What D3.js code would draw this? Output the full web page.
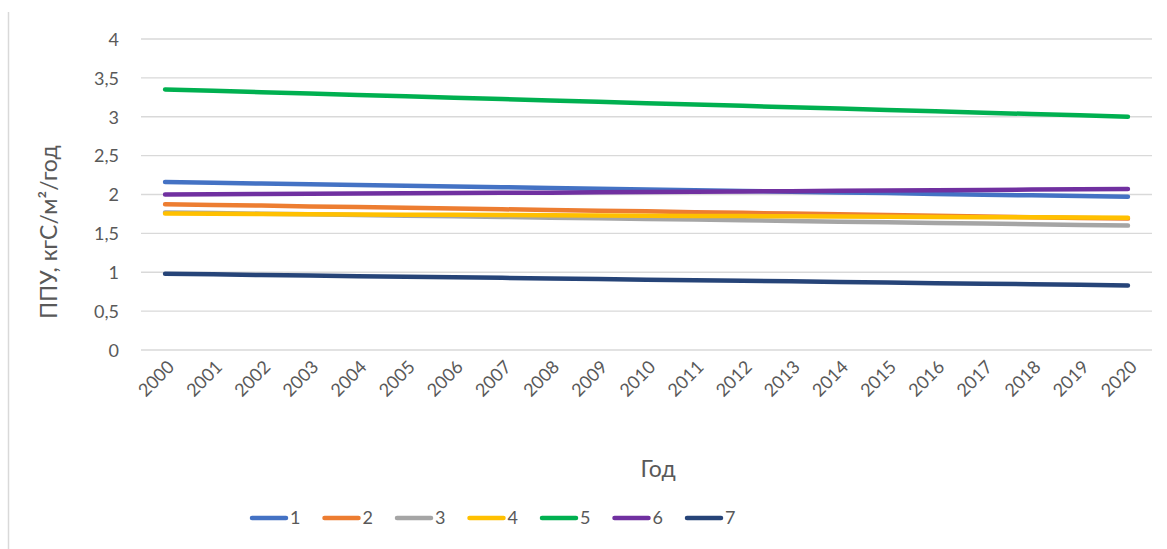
<!DOCTYPE html>
<html><head><meta charset="utf-8">
<script src="https://cdn.jsdelivr.net/npm/d3@7"></script>
<style>
html,body{margin:0;padding:0;background:#fff;}
text{font-family:Lato,"Noto Sans",sans-serif;fill:#595959;}
</style></head>
<body><svg id="c" width="1167" height="549"></svg>
<script>
const years = ["2000","2001","2002","2003","2004","2005","2006","2007","2008","2009","2010","2011","2012","2013","2014","2015","2016","2017","2018","2019","2020"];
const seriesNames = ["1","2","3","4","5","6","7"];
const colors = ["#4472C4","#ED7D31","#A5A5A5","#FFC000","#00B050","#7030A0","#264478"];
const s1 = [2.160,2.150,2.141,2.132,2.122,2.112,2.103,2.094,2.084,2.074,2.065,2.056,2.046,2.036,2.027,2.018,2.008,1.998,1.989,1.980,1.970];
const s2 = [1.875,1.866,1.857,1.847,1.838,1.829,1.820,1.810,1.801,1.792,1.783,1.773,1.764,1.755,1.745,1.736,1.727,1.718,1.708,1.699,1.690];
const s3 = [1.770,1.762,1.753,1.745,1.736,1.728,1.719,1.711,1.702,1.694,1.685,1.677,1.668,1.660,1.651,1.643,1.634,1.626,1.617,1.609,1.600];
const s4 = [1.755,1.752,1.750,1.747,1.744,1.741,1.739,1.736,1.733,1.730,1.728,1.725,1.722,1.719,1.717,1.714,1.711,1.708,1.706,1.703,1.700];
const s5 = [3.350,3.333,3.315,3.298,3.280,3.263,3.245,3.228,3.210,3.193,3.175,3.158,3.140,3.123,3.105,3.088,3.070,3.053,3.035,3.018,3.000];
const s6 = [2.000,2.003,2.006,2.009,2.012,2.015,2.018,2.021,2.024,2.028,2.031,2.035,2.039,2.043,2.047,2.051,2.055,2.059,2.063,2.067,2.071];
const s7 = [0.980,0.973,0.965,0.958,0.950,0.943,0.935,0.928,0.920,0.913,0.905,0.898,0.890,0.883,0.875,0.868,0.860,0.853,0.845,0.838,0.830];
const yTicks = [0,0.5,1,1.5,2,2.5,3,3.5,4];
const yTitle = "ППУ, кгС/м²/год";
const xTitle = "Год";

const allSeries = [s1,s2,s3,s4,s5,s6,s7];
const svg = d3.select("#c");
const FF = "Lato,'Noto Sans',sans-serif";

// chart border (left edge visible)
svg.append("line").attr("x1",8.5).attr("x2",8.5).attr("y1",12).attr("y2",549)
  .attr("stroke","#d9d9d9").attr("stroke-width",1.5);

const L = 141, R = 1152, T = 39, B = 350;
const x = d3.scaleBand().domain(years).range([L,R]);
const y = d3.scaleLinear().domain([0,4]).range([B,T]);

// gridlines
svg.append("g").selectAll("line").data(yTicks).join("line")
  .attr("x1",L).attr("x2",R).attr("y1",d=>y(d)).attr("y2",d=>y(d))
  .attr("stroke","#d9d9d9").attr("stroke-width",1.3);

// y axis labels
const yAxis = d3.axisLeft(y).tickValues(yTicks).tickSize(0).tickPadding(0)
  .tickFormat(d=>String(d).replace(".",","));
const gy = svg.append("g").attr("transform",`translate(${L-22},0)`).call(yAxis);
gy.select(".domain").remove();
gy.selectAll("text").attr("font-size",18).style("font-family",FF).attr("fill","#595959").attr("dy","0.35em");

// x axis labels
const xAxis = d3.axisBottom(x).tickSize(0).tickPadding(0);
const gx = svg.append("g").attr("transform",`translate(0,${B})`).call(xAxis);
gx.select(".domain").remove();
gx.selectAll("text").attr("font-size",18).style("font-family",FF).attr("fill","#595959")
  .attr("text-anchor","end").attr("dy",null).attr("y",0)
  .attr("transform","translate(7,15) rotate(-45)").attr("dominant-baseline","middle");

// lines
const line = d3.line().x((d,i)=>x(years[i])+x.bandwidth()/2).y(d=>y(d));
allSeries.forEach((s,i)=>{
  svg.append("path").datum(s).attr("d",line).attr("fill","none")
    .attr("stroke",colors[i]).attr("stroke-width",4.5)
    .attr("stroke-linecap","round").attr("stroke-linejoin","round");
});

// axis titles
svg.append("text").attr("transform","translate(57,232) rotate(-90)")
  .attr("text-anchor","middle").attr("font-size",23).text(yTitle);
svg.append("text").attr("x",658).attr("y",477).attr("text-anchor","middle")
  .attr("font-size",23).text(xTitle);

// legend
const lg = svg.append("g");
seriesNames.forEach((n,i)=>{
  const lx = 250 + i*72.5, ly = 518;
  lg.append("line").attr("x1",lx+2).attr("x2",lx+36).attr("y1",ly).attr("y2",ly)
    .attr("stroke",colors[i]).attr("stroke-width",4.5).attr("stroke-linecap","round");
  lg.append("text").attr("x",lx+40).attr("y",ly).attr("dy","0.35em").attr("font-size",18).text(n);
});
</script></body></html>
